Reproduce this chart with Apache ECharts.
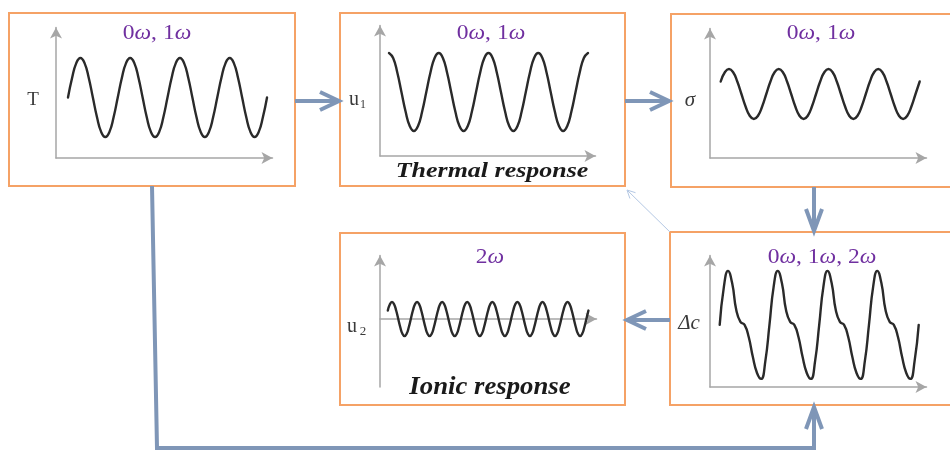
<!DOCTYPE html>
<html>
<head>
<meta charset="utf-8">
<script src="https://cdn.jsdelivr.net/npm/echarts@6/dist/echarts.min.js"></script>
<style>html,body{margin:0;padding:0;background:#fff;}#c{width:950px;height:451px;}</style>
</head>
<body>
<div id="c"></div>
<script>
// ---- data (samples every 1/12 of a period) ----
const T_START = 0;
const T_VALUES = [
  1.5, 2.0, 2.37, 2.5, 2.37, 2.0, 1.5, 1.0, 0.63, 0.5, 0.63, 1.0,
  1.5, 2.0, 2.37, 2.5, 2.37, 2.0, 1.5, 1.0, 0.63, 0.5, 0.63, 1.0,
  1.5, 2.0, 2.37, 2.5, 2.37, 2.0, 1.5, 1.0, 0.63, 0.5, 0.63, 1.0,
  1.5, 2.0, 2.37, 2.5, 2.37, 2.0, 1.5, 1.0, 0.63, 0.5, 0.63, 1.0,
  1.5
];
const U1_START = 0;
const U1_VALUES = [
  2.6, 2.47, 2.1, 1.6, 1.1, 0.73, 0.6, 0.73, 1.1, 1.6, 2.1, 2.47,
  2.6, 2.47, 2.1, 1.6, 1.1, 0.73, 0.6, 0.73, 1.1, 1.6, 2.1, 2.47,
  2.6, 2.47, 2.1, 1.6, 1.1, 0.73, 0.6, 0.73, 1.1, 1.6, 2.1, 2.47,
  2.6, 2.47, 2.1, 1.6, 1.1, 0.73, 0.6, 0.73, 1.1, 1.6, 2.1, 2.47,
  2.6
];
const SIGMA_START = -2;
const SIGMA_VALUES = [
  3.0, 3.37, 3.5, 3.37, 3.0, 2.5, 2.0, 1.63, 1.5, 1.63, 2.0, 2.5,
  3.0, 3.37, 3.5, 3.37, 3.0, 2.5, 2.0, 1.63, 1.5, 1.63, 2.0, 2.5,
  3.0, 3.37, 3.5, 3.37, 3.0, 2.5, 2.0, 1.63, 1.5, 1.63, 2.0, 2.5,
  3.0, 3.37, 3.5, 3.37, 3.0, 2.5, 2.0, 1.63, 1.5, 1.63, 2.0, 2.5,
  3.0
];
const DC_START = -2;
const DC_VALUES = [
  2.30, 3.70, 4.30, 3.85, 2.85, 2.41, 2.30, 1.85, 1.11, 0.52, 0.30, 0.95,
  2.30, 3.70, 4.30, 3.85, 2.85, 2.41, 2.30, 1.85, 1.11, 0.52, 0.30, 0.95,
  2.30, 3.70, 4.30, 3.85, 2.85, 2.41, 2.30, 1.85, 1.11, 0.52, 0.30, 0.95,
  2.30, 3.70, 4.30, 3.85, 2.85, 2.41, 2.30, 1.85, 1.11, 0.52, 0.30, 0.95,
  2.30
];
const U2_START = -2;
const U2_VALUES = [
  0.5, 0.87, 1, 0.87, 0.5, 0, -0.5, -0.87, -1, -0.87, -0.5, 0,
  0.5, 0.87, 1, 0.87, 0.5, 0, -0.5, -0.87, -1, -0.87, -0.5, 0,
  0.5, 0.87, 1, 0.87, 0.5, 0, -0.5, -0.87, -1, -0.87, -0.5, 0,
  0.5, 0.87, 1, 0.87, 0.5, 0, -0.5, -0.87, -1, -0.87, -0.5, 0,
  0.5, 0.87, 1, 0.87, 0.5, 0, -0.5, -0.87, -1, -0.87, -0.5, 0,
  0.5, 0.87, 1, 0.87, 0.5, 0, -0.5, -0.87, -1, -0.87, -0.5, 0,
  0.5, 0.87, 1, 0.87, 0.5, 0, -0.5, -0.87, -1, -0.87, -0.5, 0,
  0.5, 0.87, 1, 0.87, 0.5, 0, -0.5, -0.87, -1, -0.87, -0.5, 0,
  0.5
];
const TITLES = ['0ω, 1ω', '0ω, 1ω', '0ω, 1ω', '0ω, 1ω, 2ω', '2ω'];
const RESPONSE_LABELS = ['Thermal response', 'Ionic response'];

// ---- layout ----
const GRIDS = [
  {left: 56,  top: 27.5,  width: 216.5, height: 130.5},
  {left: 380, top: 25.5,  width: 215.5, height: 130.5},
  {left: 710, top: 28.5,  width: 216.5, height: 129.5},
  {left: 710, top: 255.5, width: 216.5, height: 131.5},
  {left: 380, top: 255.5, width: 216.5, height: 131.5}
];
const X_RANGES = [[-2.89, 49.32], [-2.17, 49.81], [-4.58, 47.64], [-4.34, 47.88], [-5.74, 97.85]];
const Y_RANGES = [[-0.032, 3.272], [-0.041, 3.305], [-0.06, 5.12], [0, 4.87], [-4.0, 3.74]];

function pairs(start, vals) { return vals.map((v, i) => [start + i, v]); }
const SERIES_DATA = [
  pairs(T_START, T_VALUES), pairs(U1_START, U1_VALUES), pairs(SIGMA_START, SIGMA_VALUES),
  pairs(DC_START, DC_VALUES), pairs(U2_START, U2_VALUES)
];

const AXIS_GRAY = '#a6a6a6';
const ARROW = '#7f96b7';
const BOX = '#f5a266';
const PURPLE = '#7030a0';

function axisLine(onZero) {
  return {show: true, onZero: onZero, symbol: ['none', 'arrow'], symbolSize: [9, 11],
          lineStyle: {color: AXIS_GRAY, width: 1.5}};
}
const xAxis = [], yAxis = [], series = [];
GRIDS.forEach((g, i) => {
  xAxis.push({type: 'value', gridIndex: i, min: X_RANGES[i][0], max: X_RANGES[i][1],
    axisLine: axisLine(i === 4), axisTick: {show: false}, axisLabel: {show: false}, splitLine: {show: false}});
  yAxis.push({type: 'value', gridIndex: i, min: Y_RANGES[i][0], max: Y_RANGES[i][1],
    axisLine: axisLine(false), axisTick: {show: false}, axisLabel: {show: false}, splitLine: {show: false}});
  series.push({type: 'line', xAxisIndex: i, yAxisIndex: i, data: SERIES_DATA[i], smooth: true,
    showSymbol: false, silent: true, z: 5,
    lineStyle: {color: '#2a2a2a', width: 2.4, cap: 'round'}});
});

const SERIF = '"Liberation Serif", "DejaVu Serif", serif';
function titleText(str, x, y) {
  const parts = str.split(/(ω)/).filter(s => s.length);
  const txt = parts.map(p => p === 'ω' ? '{w|ω}' : '{n|' + p + '}').join('');
  return {type: 'text', x: x, y: y, scaleX: 1.12, z: 10,
    style: {text: txt, textAlign: 'center', textVerticalAlign: 'middle',
      rich: {n: {fontSize: 21, fontFamily: SERIF, fill: PURPLE},
             w: {fontSize: 21, fontFamily: SERIF, fontStyle: 'italic', fill: PURPLE}}}};
}
function label(str, x, y, size, italic) {
  return {type: 'text', x: x, y: y, z: 10,
    style: {text: str, fontSize: size, fontFamily: SERIF, fontStyle: italic ? 'italic' : 'normal',
      fill: '#3a3a3a', textAlign: 'center', textVerticalAlign: 'middle'}};
}
function bigLabel(str, x, y, size, sx) {
  return {type: 'text', x: x, y: y, scaleX: sx, z: 10,
    style: {text: str, fontSize: size, fontFamily: SERIF, fontStyle: 'italic', fontWeight: 'bold',
      fill: '#1a1a1a', textAlign: 'center', textVerticalAlign: 'middle'}};
}
function box(x, y, w, h) {
  return {type: 'rect', z: 1, shape: {x: x, y: y, width: w, height: h},
    style: {fill: null, stroke: BOX, lineWidth: 2}};
}
function line(points, color, width) {
  return {type: 'polyline', z: 2, shape: {points: points},
    style: {fill: null, stroke: color, lineWidth: width, lineJoin: 'miter', lineCap: 'butt'}};
}

const graphics = [
  box(9, 13, 286, 173), box(340, 13, 285, 173), box(671, 14, 290, 173),
  box(670, 232, 290, 173), box(340, 233, 285, 172),
  // arrows
  line([[295, 101], [338, 101]], ARROW, 4), line([[320, 92], [339, 101], [320, 110]], ARROW, 4),
  line([[625, 101], [669, 101]], ARROW, 4), line([[650, 92], [669, 101], [650, 110]], ARROW, 4),
  line([[814, 187], [814, 229]], ARROW, 4), line([[806, 209], [814, 231], [822, 209]], ARROW, 4),
  line([[670, 320], [628, 320]], ARROW, 4), line([[646, 311], [627, 320], [646, 329]], ARROW, 4),
  line([[152, 186], [157, 448], [814, 448], [814, 409]], ARROW, 4),
  line([[806, 429], [814, 407], [822, 429]], ARROW, 4),
  line([[670, 232], [628, 191]], '#b4c8e4', 1),
  line([[635.5, 192.7], [627, 190], [629.9, 198.5]], '#b4c8e4', 1),
  // titles
  titleText(TITLES[0], 157, 33), titleText(TITLES[1], 491, 33), titleText(TITLES[2], 821, 33),
  titleText(TITLES[3], 822, 257), titleText(TITLES[4], 490, 257),
  // axis names
  label('T', 33, 100, 19, false),
  label('u', 354, 100, 20, false), label('1', 363, 105, 12, false),
  label('σ', 690, 100, 21, true),
  label('Δc', 689, 323, 21, true),
  label('u', 352, 327, 20, false), label('2', 363, 332, 13, false),
  bigLabel(RESPONSE_LABELS[0], 492, 171, 22, 1.18),
  bigLabel(RESPONSE_LABELS[1], 490, 388, 25, 1.07)
];

const chart = echarts.init(document.getElementById('c'), null, {renderer: 'canvas'});
chart.setOption({
  backgroundColor: '#fff',
  animation: false,
  grid: GRIDS,
  xAxis: xAxis,
  yAxis: yAxis,
  series: series,
  graphic: {elements: graphics}
});
</script>
</body>
</html>
